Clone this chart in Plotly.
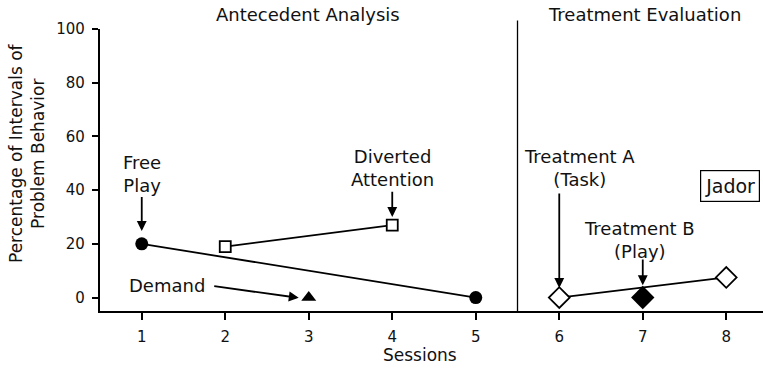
import plotly.graph_objects as go

# Data
free_play_x = [1, 5]
free_play_y = [20, 0]
diverted_x = [2, 4]
diverted_y = [19, 27]
demand_x = [3]
demand_y = [0]
treat_a_x = [6, 8]
treat_a_y = [0, 7.5]
treat_b_x = [7]
treat_b_y = [0]
x_ticks = [1, 2, 3, 4, 5, 6, 7, 8]
y_ticks = [0, 20, 40, 60, 80, 100]

FONT = "DejaVu Sans"
fig = go.Figure()

line = dict(color="black", width=1.8)
fig.add_trace(go.Scatter(x=free_play_x, y=free_play_y, mode="lines+markers", line=line,
                         marker=dict(symbol="circle", size=13, color="black")))
fig.add_trace(go.Scatter(x=diverted_x, y=diverted_y, mode="lines+markers", line=line,
                         marker=dict(symbol="square", size=11, color="white",
                                     line=dict(color="black", width=1.8))))
fig.add_trace(go.Scatter(x=demand_x, y=demand_y, mode="markers",
                         marker=dict(symbol="triangle-up", size=13, color="black")))
fig.add_trace(go.Scatter(x=treat_b_x, y=treat_b_y, mode="markers",
                         marker=dict(symbol="diamond", size=18, color="black")))
fig.add_trace(go.Scatter(x=treat_a_x, y=treat_a_y, mode="lines+markers", line=line,
                         marker=dict(symbol="diamond", size=16, color="white",
                                     line=dict(color="black", width=1.8))))

# Phase line
fig.add_shape(type="line", xref="x", yref="paper", x0=5.5, x1=5.5, y0=0, y1=1.03,
              line=dict(color="black", width=1.3))

tf = dict(family=FONT, size=18, color="#111")

def label(text, x, y, **kw):
    fig.add_annotation(x=x, y=y, xref="x", yref="y", text=text, showarrow=False,
                       xanchor="center", yanchor="middle", font=tf, **kw)

def arrow(x, y, ax, ay):
    fig.add_annotation(x=x, y=y, ax=ax, ay=ay, xref="x", yref="y", axref="x", ayref="y",
                       text="", showarrow=True, arrowhead=2, arrowsize=1.1,
                       arrowwidth=1.8, arrowcolor="black")

label("Free<br>Play", 1, 46)
arrow(1, 24.8, 1, 38)
label("Diverted<br>Attention", 4, 48.3)
arrow(4, 30, 4, 40)
label("Demand", 1.3, 4.6)
arrow(2.88, -0.1, 1.85, 4.3)
label("Treatment A<br>(Task)", 6.24, 48.3)
arrow(6, 3.6, 6, 39.3)
label("Treatment B<br>(Play)", 6.96, 21.4)
arrow(7, 4.6, 7, 14.7)
fig.add_annotation(x=7.68, y=41.4, xref="x", yref="y", text="Jador", showarrow=False,
                   xanchor="left", yanchor="middle",
                   font=dict(family=FONT, size=19, color="#111"),
                   bordercolor="black", borderwidth=1.2, borderpad=4, bgcolor="white")

fig.add_annotation(x=(308 - 100) / 663, y=(311 - 14) / 282, xref="paper", yref="paper",
                   xanchor="center", yanchor="middle",
                   text="Antecedent Analysis", showarrow=False, font=tf)
fig.add_annotation(x=(644 - 100) / 663, y=(311 - 14) / 282, xref="paper", yref="paper",
                   xanchor="center", yanchor="middle",
                   text="Treatment Evaluation", showarrow=False, font=tf)
fig.add_annotation(x=(27 - 100) / 663, y=(311 - 153) / 282, xref="paper", yref="paper",
                   xanchor="center", yanchor="middle",
                   text="Percentage of Intervals of<br>Problem Behavior", textangle=-90,
                   showarrow=False, font=dict(family=FONT, size=17, color="#111"))
fig.add_annotation(x=(420 - 100) / 663, y=(311 - 355) / 282, xref="paper", yref="paper",
                   xanchor="center", yanchor="middle",
                   text="Sessions", showarrow=False, font=dict(family=FONT, size=17, color="#111"))

fig.update_layout(
    width=763, height=369, showlegend=False,
    margin=dict(l=100, r=0, t=29, b=58),
    plot_bgcolor="white", paper_bgcolor="white",
    font=dict(family=FONT, size=15, color="#111"),
    xaxis=dict(range=[0.5, 8.44], tickvals=x_ticks, showgrid=False, zeroline=False,
               showline=True, linecolor="black", linewidth=2.2, ticks="outside",
               ticklen=7, tickwidth=1.6, tickcolor="black", ticklabelstandoff=4,
               tickfont=dict(family=FONT, size=15, color="#111")),
    yaxis=dict(range=[-5, 100], tickvals=y_ticks, showgrid=False, zeroline=False,
               showline=True, linecolor="black", linewidth=2.2, ticks="outside",
               ticklen=6, tickwidth=1.6, tickcolor="black", ticklabelstandoff=4,
               tickfont=dict(family=FONT, size=15, color="#111")),
)

fig.write_html("out.html")
